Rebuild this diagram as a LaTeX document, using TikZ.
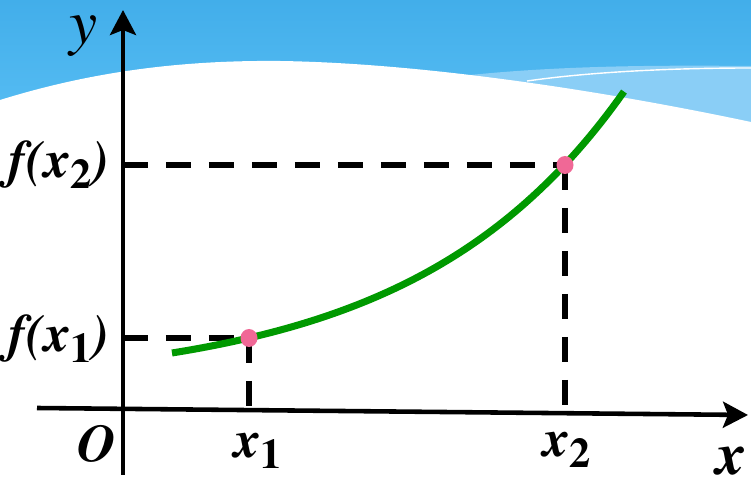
\documentclass[tikz,border=0pt]{standalone}
\usepackage[T1]{fontenc}
\usepackage{mathptmx}
\usetikzlibrary{arrows.meta, positioning}

\definecolor{skytop}{RGB}{66,174,234}
\definecolor{skybot}{RGB}{88,190,244}
\definecolor{skylight}{RGB}{138,206,246}
\definecolor{curvegreen}{RGB}{0,153,0}
\definecolor{dotpink}{RGB}{240,104,150}

\newcommand{\idx}[1]{\raisebox{-0.2em}{\fontsize{24}{24}\selectfont\upshape #1}}

\begin{document}
\begin{tikzpicture}[x=0.02cm, y=-0.02cm,
		axis/.style={line width=2.6pt, -{Stealth[length=0.5cm, width=0.52cm, inset=0.1cm]}},
		guide/.style={line width=3pt, dash pattern=on 0.5cm off 0.36cm},
		curve/.style={line width=4pt, curvegreen},
		lbl/.style={inner sep=0pt, font=\fontsize{30}{30}\selectfont\bfseries\itshape}]

		\useasboundingbox (0,0) rectangle (751,479);

		% sky and the white hill
		\shade[top color=skytop, bottom color=skybot] (0,0) rectangle (751,130);
		\fill[skylight] (470,75) .. controls (560,66) and (650,65) .. (751,66) -- (751,130) -- (470,130) -- cycle;
		\draw[white, line width=0.8pt] (527,81) .. controls (590,72) and (670,68) .. (751,68);
		\fill[white] (0,100) .. controls (90,72) and (180,60) .. (280,61)
			.. controls (420,63) and (600,90) .. (751,122) -- (751,479) -- (0,479) -- cycle;

		% points on the curve
		\coordinate (P1) at (249,338);
		\coordinate (P2) at (565,165);
		\coordinate (Y1) at (123,338);
		\coordinate (Y2) at (123,165);
		\coordinate (X1) at (249,406);
		\coordinate (X2) at (565,408);

		\draw[guide] (Y2) -- (P2);
		\draw[guide] (Y1) -- (P1);
		\draw[guide] (P2) -- (X2);
		\draw[guide] (P1) -- (X1);

		% axes
		\draw[axis] (37,408) -- (748,415);
		\draw[axis] (123,475) -- (123,10);

		\draw[curve] plot[domain=172:624, samples=80] (\x, {386.6-33.6*exp(0.0048*(\x-172))});

		\fill[dotpink] (P1) ellipse (0.17cm and 0.18cm);
		\fill[dotpink] (P2) ellipse (0.17cm and 0.18cm);

		% labels
		\node[inner sep=0pt, font=\fontsize{36}{36}\selectfont\itshape] (ylbl) at (84,36) {y};
		\node[lbl, font=\fontsize{34}{34}\selectfont\bfseries\itshape] (xlbl) at (731,461) {x};
		\node[lbl] (olbl) at (97,444) {O};
		\node[lbl] (fx2) at (59,165) {f(x\idx{2})};
		\node[lbl] (fx1) at (59,339) {f(x\idx{1})};
		\node[lbl] (x1lbl) at (258,451) {x\idx{1}};
		\node[lbl] (x2lbl) at (567,450) {x\idx{2}};
	\end{tikzpicture}
\end{document}
